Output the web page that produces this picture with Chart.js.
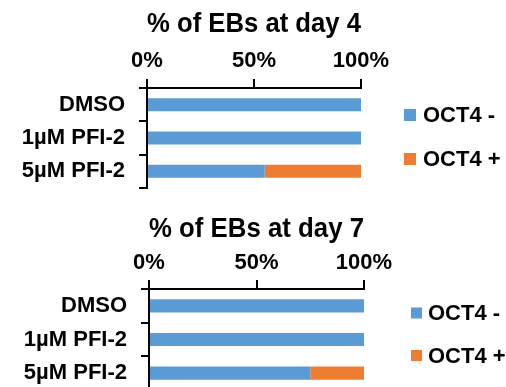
<!DOCTYPE html>
<html>
  <head>
    <title>% of EBs</title>
    <meta charset="UTF-8" />
    <style>
      html, body { margin: 0; padding: 0; background: #fff; }
      body { width: 506px; height: 387px; overflow: hidden; position: relative; }
      canvas { position: absolute; left: 0; }
    </style>
  </head>
  <body>
    <canvas id="day4Chart" width="506" height="200" style="top: 0px"></canvas>
    <canvas id="day7Chart" width="506" height="200" style="top: 200px"></canvas>

    <script src="https://cdn.jsdelivr.net/npm/chart.js@4.4.1/dist/chart.umd.min.js"></script>
    <script>
      const categories = ["DMSO", "1µM PFI-2", "5µM PFI-2"];
      const seriesNames = ["OCT4 -", "OCT4 +"];
      const day4Neg = [100, 100, 55];
      const day4Pos = [0, 0, 45];
      const day7Neg = [100, 100, 75];
      const day7Pos = [0, 0, 25];

      const blue = "#5B9BD5";
      const orange = "#ED7D31";
      const fontFamily = "'Liberation Sans', Arial, sans-serif";

      // top x axis line + tick marks along the top of the plot area
      const topAxis = {
        id: "topAxis",
        afterDatasetsDraw(chart) {
          const ctx = chart.ctx;
          const area = chart.chartArea;
          const sx = chart.scales.x;
          const y = Math.round(area.top);
          ctx.save();
          ctx.fillStyle = "#000";
          ctx.fillRect(area.left - 1, y - 1, area.right - area.left + 2, 2);
          sx.ticks.forEach((t) => {
            const px = Math.round(sx.getPixelForValue(t.value));
            ctx.fillRect(px - 1, y - 9, 2, 9);
          });
          ctx.restore();
        }
      };

      // legend drawn next to the plot, bottom one runs off the page like the original
      const sideLegend = {
        id: "sideLegend",
        afterDraw(chart, args, opts) {
          const ctx = chart.ctx;
          const area = chart.chartArea;
          ctx.save();
          ctx.font = "bold 22px " + fontFamily;
          ctx.textBaseline = "middle";
          ctx.textAlign = "left";
          chart.data.datasets.forEach((ds, i) => {
            const cy = area.top + opts.ys[i];
            const x = area.right + opts.dx;
            ctx.fillStyle = ds.backgroundColor;
            ctx.fillRect(x, cy - opts.box / 2, opts.box, opts.box);
            ctx.fillStyle = "#000";
            ctx.fillText(ds.label, x + opts.box + opts.gap, cy + 1);
          });
          ctx.restore();
        }
      };

      function makeChart(id, title, neg, pos, cfg) {
        return new Chart(document.getElementById(id), {
          type: "bar",
          data: {
            labels: categories,
            datasets: [
              { label: seriesNames[0], data: neg, backgroundColor: blue },
              { label: seriesNames[1], data: pos, backgroundColor: orange }
            ]
          },
          options: {
            indexAxis: "y",
            responsive: false,
            animation: false,
            layout: { padding: { left: 0, right: cfg.padRight, top: 0, bottom: cfg.padBottom } },
            datasets: { bar: { categoryPercentage: 1, barPercentage: 0.39 } },
            scales: {
              x: {
                position: "top",
                stacked: true,
                min: 0,
                max: 100,
                ticks: {
                  stepSize: 50,
                  padding: cfg.tickPad,
                  color: "#000",
                  font: { family: fontFamily, size: 22, weight: "bold" },
                  callback: (v) => v + "%"
                },
                grid: { drawOnChartArea: false, tickLength: 8, color: "#000", lineWidth: 2 },
                border: { color: "#000", width: 2 },
                afterFit: (scale) => { scale.height = cfg.xHeight; }
              },
              y: {
                stacked: true,
                ticks: {
                  autoSkip: false,
                  padding: 14,
                  color: "#000",
                  font: { family: fontFamily, size: 22, weight: "bold" }
                },
                grid: { z: 1, offset: true, drawOnChartArea: false, drawTicks: true, tickLength: 8, color: "#000", lineWidth: 2 },
                border: { z: 1, display: true, color: "#000", width: 2 },
                afterFit: (scale) => {
                  scale.width = cfg.yWidth;
                  scale.paddingTop = 0;
                  scale.paddingBottom = 0;
                }
              }
            },
            plugins: {
              legend: { display: false },
              tooltip: { enabled: false },
              title: {
                display: true,
                fullSize: false,
                text: title,
                color: "#000",
                font: { family: fontFamily, size: 28, weight: "bold" },
                padding: { top: cfg.titleTop, bottom: cfg.titleBottom }
              },
              sideLegend: cfg.legend
            }
          },
          plugins: [topAxis, sideLegend]
        });
      }

      makeChart("day4Chart", "% of EBs at day 4", day4Neg, day4Pos, {
        padRight: 145, padBottom: 12, tickPad: 6, yWidth: 147, xHeight: 40.6,
        titleTop: 7.4, titleBottom: 6.4,
        legend: { dx: 43, ys: [27, 71], box: 12, gap: 7 }
      });

      makeChart("day7Chart", "% of EBs at day 7", day7Neg, day7Pos, {
        padRight: 142, padBottom: 10, tickPad: 5, yWidth: 149, xHeight: 39.6,
        titleTop: 12.4, titleBottom: 3.4,
        legend: { dx: 47, ys: [24, 66.5], box: 11, gap: 6 }
      });
    </script>
  </body>
</html>
